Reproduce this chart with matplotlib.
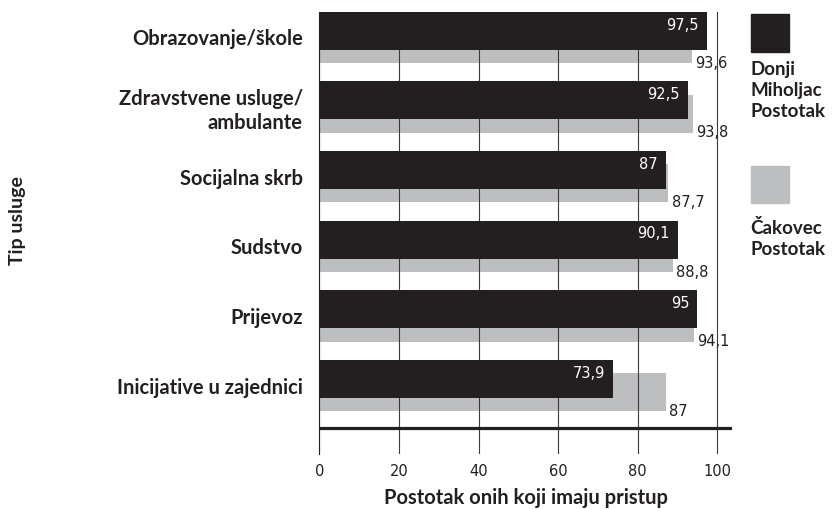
import numpy as np
import matplotlib.pyplot as plt
from matplotlib.patches import Rectangle

plt.rcParams['font.family']='DejaVu Sans'
plt.rcParams['axes.linewidth']=.8

# data, top to bottom
categories=[
        'Obrazovanje/škole',
        'Zdravstvene usluge/\nambulante',
        'Socijalna skrb',
        'Sudstvo',
        'Prijevoz',
        'Inicijative u zajednici',
        ]
donji_miholjac=[97.5, 92.5, 87, 90.1, 95, 73.9]
cakovec=[93.6, 93.8, 87.7, 88.8, 94.1, 87]
series_names=['Donji\nMiholjac\nPostotak', 'Čakovec\nPostotak']
xticks=[0, 20, 40, 60, 80, 100]

dark='#231f20'
grey='#bcbec0'
bold_font={'family':'Lato', 'weight':'bold', 'color':dark}


def fmt(v):
    return f'{v:g}'.replace('.', ',')


fig=plt.figure(figsize=(8.33, 5.09), dpi=100)
ax=fig.add_axes([319.3/833, 1-454/509, (731.7-319.3)/833, (454-12)/509])

ypos=np.arange(len(categories))
h=.546
off=.097

ax.barh(ypos+off, cakovec, height=h, color=grey, zorder=1)
ax.barh(ypos-off, donji_miholjac, height=h, color=dark, zorder=2)

for y, v in zip(ypos, donji_miholjac):
    ax.annotate(
            fmt(v), xy=(v, y-off), xytext=(-6, 4),
            textcoords='offset points', ha='right', va='center',
            color='white', fontsize=10.5, zorder=3,
            )
for y, v in zip(ypos, cakovec):
    ax.annotate(
            fmt(v), xy=(v, y+off+h/2), xytext=(2.5, 0),
            textcoords='offset points', ha='left', va='center',
            color=dark, fontsize=10.5, zorder=3,
            )

ax.axhline(5.61, color=dark, lw=2.3, zorder=3)

ax.set_xlim(0, 103.6)
ax.set_ylim(5.984, -.366)
ax.set_xticks(xticks)
ax.set_xticklabels([str(t) for t in xticks], fontsize=10.5, color=dark)
ax.set_yticks(ypos)
ax.set_yticklabels(categories, fontdict=bold_font, fontsize=14.5,
                   linespacing=1.25)
for lbl in ax.get_yticklabels():
    if '\n' in lbl.get_text():
        lbl.set_verticalalignment('center_baseline')
ax.tick_params(axis='x', length=0, pad=7)
ax.tick_params(axis='y', length=0, pad=12)
ax.xaxis.grid(True, color='#3a3a3a', lw=.8)
ax.set_axisbelow('line')
for s in ['top', 'right', 'bottom']:
    ax.spines[s].set_visible(False)
ax.spines['left'].set_color(dark)

fig.text(526/833, 1-504/509, 'Postotak onih koji imaju pristup',
         ha='center', va='baseline', fontdict=bold_font, fontsize=14.5)
fig.text(18/833, 1-221/509, 'Tip usluge', rotation=90, ha='center',
         va='center', fontdict=bold_font, fontsize=14)

# legend on the right
fig.add_artist(Rectangle((750.7/833, 1-51.7/509), 38/833, 38/509,
                         transform=fig.transFigure, color=dark))
fig.text(750/833, 1-61/509, series_names[0], ha='left', va='top',
         fontdict=bold_font, fontsize=13.5, linespacing=1.3)
fig.add_artist(Rectangle((750.7/833, 1-203/509), 38/833, 37/509,
                         transform=fig.transFigure, color=grey))
fig.text(750/833, 1-219/509, series_names[1], ha='left', va='top',
         fontdict=bold_font, fontsize=13.5, linespacing=1.3)

fig.savefig('out.png', dpi=100)
